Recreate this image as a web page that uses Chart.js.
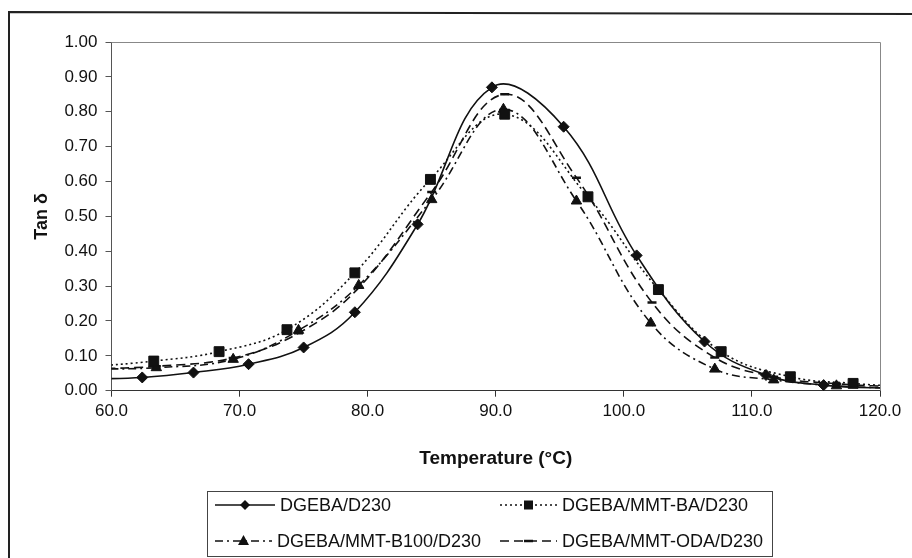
<!DOCTYPE html>
<html><head><meta charset="utf-8">
<script src="https://cdn.jsdelivr.net/npm/chart.js@4/dist/chart.umd.min.js"></script>
<style>html,body{margin:0;padding:0;background:#fff}canvas{display:block}</style>
</head><body>
<canvas id="c" width="912" height="558"></canvas>
<script>
// ---- data ----
const seriesNames = ['DGEBA/D230', 'DGEBA/MMT-BA/D230', 'DGEBA/MMT-B100/D230', 'DGEBA/MMT-ODA/D230'];
const xTickValues = [60, 70, 80, 90, 100, 110, 120];
const xTickLabels = ['60.0', '70.0', '80.0', '90.0', '100.0', '110.0', '120.0'];
const yTickValues = [0, 0.1, 0.2, 0.3, 0.4, 0.5, 0.6, 0.7, 0.8, 0.9, 1.0];
const yTickLabels = ['0.00', '0.10', '0.20', '0.30', '0.40', '0.50', '0.60', '0.70', '0.80', '0.90', '1.00'];
const xTitle = 'Temperature (°C)';
const yTitle = 'Tan δ';

const d230T = [57.8, 62.4, 66.4, 70.7, 75.0, 79.0, 83.9, 89.7, 95.3, 101.0, 106.3, 111.1, 115.6, 121.5];
const d230V = [0.033, 0.038, 0.052, 0.076, 0.124, 0.225, 0.477, 0.870, 0.757, 0.388, 0.141, 0.045, 0.016, 0.006];

const baT = [58.0, 63.3, 68.4, 73.7, 79.0, 84.9, 90.7, 97.2, 102.7, 107.6, 113.0, 117.9, 122.5];
const baV = [0.068, 0.085, 0.112, 0.175, 0.338, 0.606, 0.793, 0.556, 0.290, 0.112, 0.040, 0.021, 0.010];

const b100T = [58.5, 63.5, 69.5, 74.6, 79.3, 85.0, 90.6, 96.3, 102.1, 107.1, 111.7, 116.6, 122.0];
const b100V = [0.062, 0.066, 0.090, 0.173, 0.302, 0.548, 0.807, 0.544, 0.194, 0.062, 0.031, 0.014, 0.006];

const odaT = [58.5, 63.5, 69.5, 74.6, 79.3, 85.0, 90.7, 96.3, 102.2, 107.1, 111.7, 116.6, 122.0];
const odaV = [0.062, 0.070, 0.094, 0.165, 0.295, 0.570, 0.850, 0.611, 0.253, 0.095, 0.040, 0.020, 0.010];

// ---- styles ----
const FONT = '"Liberation Sans", Arial, Helvetica, sans-serif';
const INK = '#111';
const styles = [
  { dash: [], marker: 'rectRot', radius: 5.5 },
  { dash: [2, 3], marker: 'rect', radius: 7 },
  { dash: [8, 4, 2, 4], marker: 'triangle', radius: 6 },
  { dash: [9, 5], marker: 'line', radius: 4.5 }
];
const pairs = (xs, ys) => xs.map((x, i) => ({ x: x, y: ys[i] }));
const seriesData = [pairs(d230T, d230V), pairs(baT, baV), pairs(b100T, b100V), pairs(odaT, odaV)];

const datasets = seriesNames.map((name, i) => ({
  label: name,
  data: seriesData[i],
  borderColor: INK,
  backgroundColor: INK,
  borderWidth: 1.6,
  borderDash: styles[i].dash,
  tension: 0.4,
  pointStyle: styles[i].marker,
  pointRadius: styles[i].radius,
  pointBorderWidth: styles[i].marker === 'line' ? 2.5 : 1,
  pointBackgroundColor: INK,
  pointBorderColor: INK,
  fill: false
}));

// frame, plot border & legend
const decor = {
  id: 'decor',
  beforeDraw(chart) {
    const ctx = chart.ctx;
    ctx.save();
    ctx.fillStyle = '#fff';
    ctx.fillRect(0, 0, chart.width, chart.height);
    ctx.strokeStyle = '#222';
    ctx.lineWidth = 2;
    ctx.beginPath();
    ctx.moveTo(9, 558); ctx.lineTo(9, 12); ctx.lineTo(912, 14);
    ctx.stroke();
    ctx.restore();
  },
  afterDraw(chart) {
    const ctx = chart.ctx;
    const a = chart.chartArea;
    ctx.save();
    ctx.strokeStyle = '#888';
    ctx.lineWidth = 1;
    ctx.beginPath();
    ctx.moveTo(a.left, a.top + 0.5); ctx.lineTo(a.right + 0.5, a.top + 0.5); ctx.lineTo(a.right + 0.5, a.bottom);
    ctx.stroke();

    // legend box
    const bx = 207, by = 491, bw = 565, bh = 65;
    ctx.strokeStyle = '#444';
    ctx.strokeRect(bx + 0.5, by + 0.5, bw, bh);
    const items = [
      { i: 0, x0: 215, x1: 275, y: 505 },
      { i: 1, x0: 500, x1: 557, y: 505 },
      { i: 2, x0: 215, x1: 272, y: 541 },
      { i: 3, x0: 500, x1: 557, y: 541 }
    ];
    items.forEach(it => {
      const st = styles[it.i];
      ctx.strokeStyle = INK;
      ctx.lineWidth = 1.6;
      ctx.setLineDash(st.dash);
      ctx.beginPath();
      ctx.moveTo(it.x0, it.y); ctx.lineTo(it.x1, it.y);
      ctx.stroke();
      ctx.setLineDash([]);
      const cx = (it.x0 + it.x1) / 2, cy = it.y;
      ctx.fillStyle = INK;
      ctx.beginPath();
      if (st.marker === 'rectRot') {
        const r = 5;
        ctx.moveTo(cx, cy - r); ctx.lineTo(cx + r, cy); ctx.lineTo(cx, cy + r); ctx.lineTo(cx - r, cy); ctx.closePath(); ctx.fill();
      } else if (st.marker === 'rect') {
        ctx.rect(cx - 4.5, cy - 4.5, 9, 9); ctx.fill();
      } else if (st.marker === 'triangle') {
        ctx.moveTo(cx, cy - 6); ctx.lineTo(cx + 5.5, cy + 4); ctx.lineTo(cx - 5.5, cy + 4); ctx.closePath(); ctx.fill();
      } else {
        ctx.lineWidth = 2.5;
        ctx.moveTo(cx - 4.5, cy); ctx.lineTo(cx + 4.5, cy); ctx.stroke();
      }
      ctx.fillStyle = '#111';
      ctx.font = '18px ' + FONT;
      ctx.textBaseline = 'middle';
      ctx.textAlign = 'left';
      ctx.fillText(seriesNames[it.i], it.x1 + 5, cy + 1);
    });
    ctx.restore();
  }
};

new Chart(document.getElementById('c'), {
  type: 'line',
  data: { datasets: datasets },
  plugins: [decor],
  options: {
    responsive: false,
    animation: false,
    devicePixelRatio: 1,
    layout: { padding: { left: 0, top: 42, right: 32, bottom: 88 } },
    plugins: { legend: { display: false }, tooltip: { enabled: false } },
    scales: {
      x: {
        type: 'linear',
        min: 60, max: 120,
        afterBuildTicks: s => { s.ticks = xTickValues.map(v => ({ value: v })); },
        afterFit: s => { s.height = 79.3; },
        ticks: {
          callback: (v, i) => xTickLabels[i],
          color: '#111',
          font: { family: FONT, size: 17 },
          padding: 4,
          maxRotation: 0,
          autoSkip: false
        },
        grid: { display: true, drawOnChartArea: false, drawTicks: true, tickLength: 6, color: '#333' },
        border: { display: true, color: '#333', width: 1 },
        title: { display: true, text: xTitle, color: '#111', font: { family: FONT, size: 19, weight: 'bold' }, padding: { top: 0, bottom: 0 } }
      },
      y: {
        type: 'linear',
        min: 0, max: 1,
        afterBuildTicks: s => { s.ticks = yTickValues.map(v => ({ value: v })); },
        afterFit: s => { s.width = 111.5; },
        ticks: {
          callback: (v, i) => yTickLabels[i],
          color: '#111',
          font: { family: FONT, size: 17 },
          padding: 8,
          autoSkip: false
        },
        grid: { display: true, drawOnChartArea: false, drawTicks: true, tickLength: 6, color: '#555' },
        border: { display: true, color: '#555', width: 1 },
        title: { display: true, text: yTitle, color: '#111', font: { family: FONT, size: 18, weight: 'bold' }, padding: { top: 31, bottom: 0 } }
      }
    }
  }
});
</script>
</body></html>
